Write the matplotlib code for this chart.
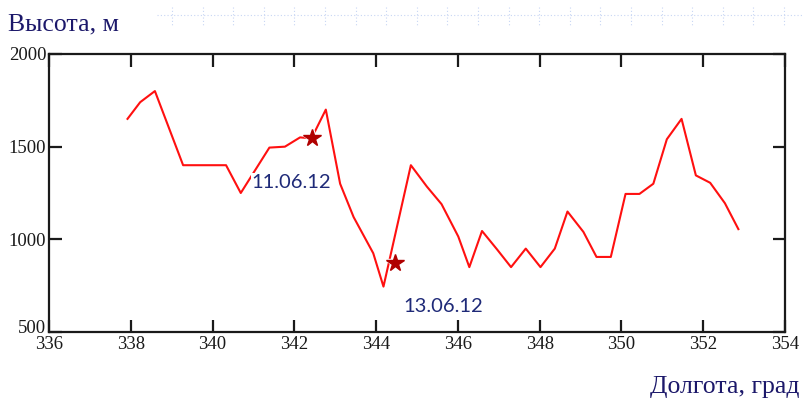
import matplotlib.pyplot as plt
import matplotlib.transforms as mtransforms
from matplotlib.lines import Line2D

# ---- track data: longitude (deg) vs altitude (m) ----
lon = [337.92, 338.23, 338.59, 339.28, 340.33, 340.69, 341.39, 341.77,
       342.14, 342.42, 342.77, 343.12, 343.45, 343.93, 344.18, 344.85,
       345.24, 345.60, 346.01, 346.28, 346.59, 346.96, 347.30, 347.66,
       348.02, 348.37, 348.68, 349.07, 349.39, 349.74, 350.10, 350.44,
       350.78, 351.11, 351.47, 351.82, 352.17, 352.53, 352.86]
alt = [1650, 1740, 1800, 1400, 1400, 1250, 1495, 1500,
       1550, 1545, 1700, 1300, 1120, 925, 745, 1400,
       1285, 1190, 1015, 850, 1045, 945, 850, 950,
       850, 950, 1150, 1040, 905, 905, 1245, 1245,
       1300, 1540, 1650, 1345, 1305, 1195, 1055]

# observation points and their dates
obs_lon = [342.42, 344.46]
obs_alt = [1545, 875]
obs_dates = ["11.06.12", "13.06.12"]
label_pos = [(340.96, 1309), (344.66, 635)]

x_ticks = list(range(336, 355, 2))
y_ticks = [500, 1000, 1500, 2000]

navy = "#1c186a"
ink = "#1a1a1a"

fig = plt.figure(figsize=(8.04, 4.01), dpi=100)
ax = fig.add_axes([49 / 804, 1 - 332 / 401, 736 / 804, 278 / 401])

ax.plot(lon, alt, color="#ff1010", lw=1.5, zorder=2)

# stars: white halo first, then the dark red mark
ax.plot(obs_lon, obs_alt, ls="none", marker="*", ms=17, color="white", zorder=3)
ax.plot(obs_lon, obs_alt, ls="none", marker="*", ms=13, color="#b00000", zorder=4)

for (tx, ty), d in zip(label_pos, obs_dates):
    ax.text(tx, ty, d, ha="left", va="center", fontsize=14.5, color="#1f2a78",
            family="Lato", zorder=5,
            bbox=dict(fc="white", ec="none", pad=0.3))

ax.set_xlim(336, 354)
ax.set_ylim(500, 2000)
ax.set_xticks(x_ticks)
ax.set_yticks(y_ticks)
ax.tick_params(direction="in", top=True, right=True, length=9, width=1.6,
               color=ink, labelsize=13.5, labelcolor=ink, pad=2)
ax.tick_params(axis="x", pad=3)
for lab in ax.get_xticklabels() + ax.get_yticklabels():
    lab.set_family("Liberation Serif")

# lift the lowest y label a little so it clears the first x label
lift = mtransforms.ScaledTranslation(0, 4 / 72, fig.dpi_scale_trans)
low = ax.get_yticklabels()[0]
low.set_transform(low.get_transform() + lift)

for sp in ax.spines.values():
    sp.set_linewidth(1.6)
    sp.set_color(ink)

fig.text(8 / 804, 1 - 24 / 401, "Высота, м", ha="left", va="center",
         fontsize=18.5, color=navy, family="Liberation Serif")
fig.text(800 / 804, 1 - 387 / 401, "Долгота, град", ha="right", va="center",
         fontsize=18.5, color=navy, family="Liberation Serif")

# faint dotted ruler along the top edge
ruler_y = 1 - 15 / 401
fig.add_artist(Line2D([157 / 804, 1.0], [ruler_y, ruler_y], lw=0.8,
                      ls=(0, (1, 2)), color="#c8d6f4"))
px = 172
while px < 804:
    fig.add_artist(Line2D([px / 804, px / 804], [1 - 7 / 401, 1 - 25 / 401],
                          lw=0.8, ls=(0, (1, 2)), color="#c8d6f4"))
    px += 30.6

fig.savefig("out.png", dpi=100)
